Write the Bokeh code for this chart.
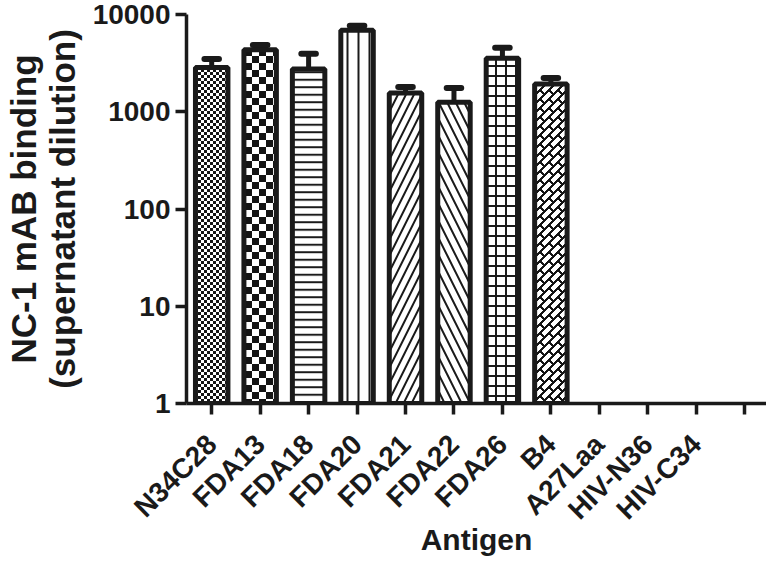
import math, zlib, struct, base64
import numpy as np
from bokeh.plotting import figure
from bokeh.models import (ColumnDataSource, FixedTicker, NumeralTickFormatter,
                          Range1d, ImageURLTexture)
from bokeh.embed import file_html
from bokeh.resources import INLINE

# ---------------- data ----------------
antigens = ["N34C28", "FDA13", "FDA18", "FDA20", "FDA21", "FDA22", "FDA26",
            "B4", "A27Laa", "HIV-N36", "HIV-C34"]
binding = [2850, 4350, 2750, 6900, 1560, 1250, 3550, 1930, 0, 0, 0]
binding_sd = [630, 520, 1200, 760, 240, 500, 990, 290, 0, 0, 0]
y_ticks = [1, 10, 100, 1000, 10000]

# ---------------- textures ----------------
def png_url(arr):
    h, w = arr.shape
    raw = b"".join(b"\x00" + arr[i].astype(np.uint8).tobytes() for i in range(h))
    def chunk(t, d):
        c = struct.pack(">I", len(d)) + t + d
        return c + struct.pack(">I", zlib.crc32(t + d) & 0xffffffff)
    png = (b"\x89PNG\r\n\x1a\n"
           + chunk(b"IHDR", struct.pack(">IIBBBBB", w, h, 8, 0, 0, 0, 0))
           + chunk(b"IDAT", zlib.compress(raw))
           + chunk(b"IEND", b""))
    return "data:image/png;base64," + base64.b64encode(png).decode()

def checker(cell):
    n = 2 * cell
    yy, xx = np.mgrid[0:n, 0:n]
    return np.where(((xx // cell) + (yy // cell)) % 2 == 0, 20, 255)

def bricks(s=9, p=18, half_w=0.8):
    T = max(2 * s, p)
    yy, xx = np.mgrid[0:T, 0:T] + 0.5
    u = xx + yy
    v = xx - yy
    du = np.abs(((u + s / 2) % s) - s / 2)
    k = np.floor(u / s)
    off = (k % 2) * (p / 2)
    dv = np.abs(((v - off + p / 2) % p) - p / 2)
    black = (du / math.sqrt(2) < half_w) | (dv / math.sqrt(2) < half_w)
    return np.where(black, 20, 255)

extra = {
    "fine_checker": ImageURLTexture(url=png_url(checker(3))),
    "big_checker": ImageURLTexture(url=png_url(checker(7))),
    "bricks": ImageURLTexture(url=png_url(bricks())),
}
patterns = ["fine_checker", "big_checker", "horizontal_line", "vertical_line",
            "right_diagonal_line", "left_diagonal_line", "cross", "bricks"]
scales = [6, 14, 7.5, 11, 16, 17, 10, 18]

# ---------------- figure ----------------
TXT = "#1a1a1a"
FONT = "Liberation Sans"

p = figure(width=766, height=565, output_backend="svg", toolbar_location=None,
           y_axis_type="log", x_range=Range1d(-0.52, 11.45),
           y_range=Range1d(1, 10000), min_border_left=172, min_border_right=0,
           min_border_top=14, min_border_bottom=162)
p.outline_line_color = None
p.xgrid.visible = False
p.ygrid.visible = False
p.background_fill_color = "white"

idx = [i for i, v in enumerate(binding) if v > 0]
src = ColumnDataSource(dict(
    x=idx,
    top=[binding[i] for i in idx],
    upper=[binding[i] + binding_sd[i] for i in idx],
    bottom=[1] * len(idx),
    pat=[patterns[i] for i in idx],
    sc=[scales[i] for i in idx],
))

# error bars (upper only)
p.segment(x0="x", y0="top", x1="x", y1="upper", source=src,
          line_color=TXT, line_width=5)
cap_half = 0.15
src.data["cx0"] = [x - cap_half for x in src.data["x"]]
src.data["cx1"] = [x + cap_half for x in src.data["x"]]
p.segment(x0="cx0", y0="upper", x1="cx1", y1="upper", source=src,
          line_color=TXT, line_width=6, line_cap="round")

p.vbar(x="x", top="top", bottom="bottom", width=0.67, source=src,
       fill_color="white", line_color=TXT, line_width=5,
       hatch_pattern="pat", hatch_scale="sc", hatch_color=TXT,
       hatch_weight=2, hatch_extra=extra)

# axes
for ax in (p.xaxis[0], p.yaxis[0]):
    ax.axis_line_width = 3.5
    ax.axis_line_color = TXT
    ax.major_tick_line_width = 3.5
    ax.major_tick_line_color = TXT
    ax.major_tick_in = 0
    ax.major_tick_out = 11
    ax.minor_tick_line_color = None
    ax.major_label_text_font = FONT
    ax.major_label_text_font_style = "bold"
    ax.major_label_text_color = TXT
    ax.axis_label_text_font = FONT
    ax.axis_label_text_font_style = "bold"
    ax.axis_label_text_color = TXT

p.yaxis.ticker = FixedTicker(ticks=y_ticks, minor_ticks=[])
p.yaxis.formatter = NumeralTickFormatter(format="0")
p.yaxis.major_label_text_font_size = "28px"
p.yaxis.major_label_standoff = 5
p.yaxis.axis_label = "NC-1 mAB binding\n(supernatant dilution)"
p.yaxis.axis_label_text_font_size = "35px"
p.yaxis.axis_label_text_line_height = 1.0
p.yaxis.axis_label_standoff = 8

p.xaxis.ticker = FixedTicker(ticks=list(range(len(antigens) + 1)), minor_ticks=[])
overrides = {i: name for i, name in enumerate(antigens)}
overrides[len(antigens)] = ""
p.xaxis.major_label_overrides = overrides
p.xaxis.major_label_orientation = math.pi / 4
p.xaxis.major_label_text_font_size = "28px"
p.xaxis.major_label_standoff = 25
p.xaxis.axis_label = "Antigen"
p.xaxis.axis_label_text_font_size = "30px"
p.xaxis.axis_label_text_line_height = 0.6
p.xaxis.axis_label_standoff = -16

open("out.html", "w").write(file_html(p, INLINE))
